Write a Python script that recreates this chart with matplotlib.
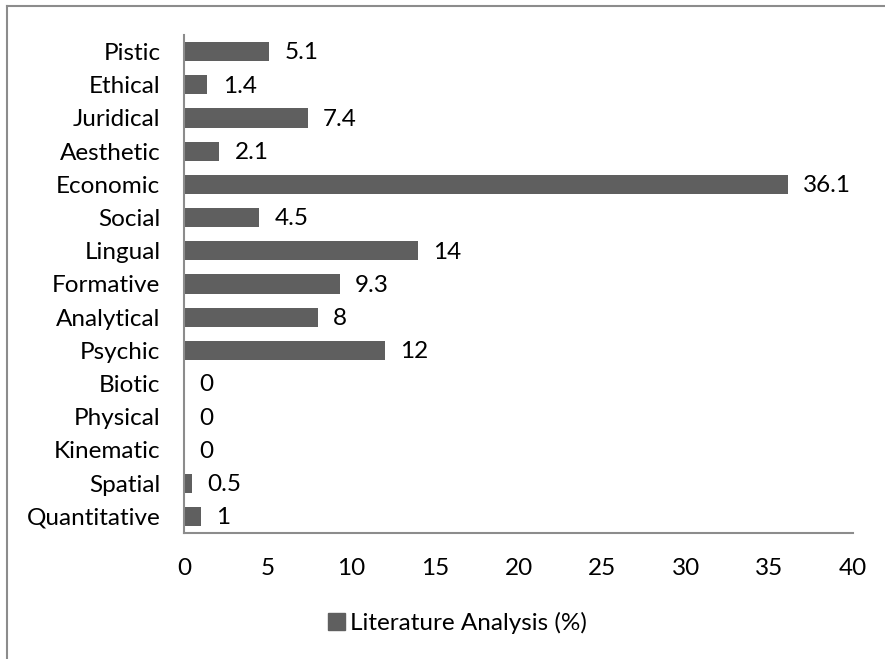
import matplotlib
matplotlib.use("Agg")
from matplotlib import pyplot
from matplotlib.patches import Patch
from matplotlib.lines import Line2D

categories = ["Quantitative", "Spatial", "Kinematic", "Physical", "Biotic", "Psychic",
              "Analytical", "Formative", "Lingual", "Social", "Economic", "Aesthetic",
              "Juridical", "Ethical", "Pistic"]
values = [1, 0.5, 0, 0, 0, 12, 8, 9.3, 14, 4.5, 36.1, 2.1, 7.4, 1.4, 5.1]
value_labels = ["1", "0.5", "0", "0", "0", "12", "8", "9.3", "14", "4.5", "36.1", "2.1", "7.4", "1.4", "5.1"]
x_ticks = [0, 5, 10, 15, 20, 25, 30, 35, 40]
series_name = "Literature Analysis (%)"

bar_color = "#5f5f5f"
axis_color = "#8c8c8c"
pyplot.rcParams["font.family"] = ["Lato", "DejaVu Sans"]
fs = 17.5

fig = pyplot.figure(figsize=(8.85, 6.59), dpi=100, facecolor="w")
ax = fig.add_axes([184 / 885, 1 - 533 / 659, (853 - 184) / 885, (533 - 35) / 659])

ypos = list(range(len(categories)))
ax.barh(ypos, values, height=0.58, color=bar_color)
for y, v, lab in zip(ypos, values, value_labels):
    ax.annotate(lab, (v, y), xytext=(11, -1), textcoords="offset points",
                ha="left", va="center", fontsize=fs, color="black")

ax.set_xlim(0, 40)
ax.set_ylim(-0.5, len(categories) - 0.5)
ax.set_xticks(x_ticks)
ax.set_xticklabels([str(t) for t in x_ticks])
ax.set_yticks(ypos)
ax.set_yticklabels(categories)
ax.tick_params(axis="both", length=0, labelsize=fs)
ax.tick_params(axis="x", pad=18)
ax.tick_params(axis="y", pad=17)
for s in ["top", "right"]:
    ax.spines[s].set_visible(False)
for s in ["left", "bottom"]:
    ax.spines[s].set_color(axis_color)
    ax.spines[s].set_linewidth(1.5)

handle = Patch(facecolor=bar_color, edgecolor=bar_color)
fig.legend([handle], [series_name], loc="center", bbox_to_anchor=(457 / 885, 1 - 623 / 659),
           frameon=False, fontsize=fs, handlelength=0.7, handleheight=0.7, handletextpad=0.2)

# chart area border (left and top visible)
fig.add_artist(Line2D([7 / 885, 7 / 885], [0, 1 - 6 / 659], transform=fig.transFigure,
                      color=axis_color, linewidth=1.5))
fig.add_artist(Line2D([7 / 885, 1], [1 - 6 / 659, 1 - 6 / 659], transform=fig.transFigure,
                      color=axis_color, linewidth=1.5))

pyplot.savefig("out.png", dpi=100, facecolor="w")
